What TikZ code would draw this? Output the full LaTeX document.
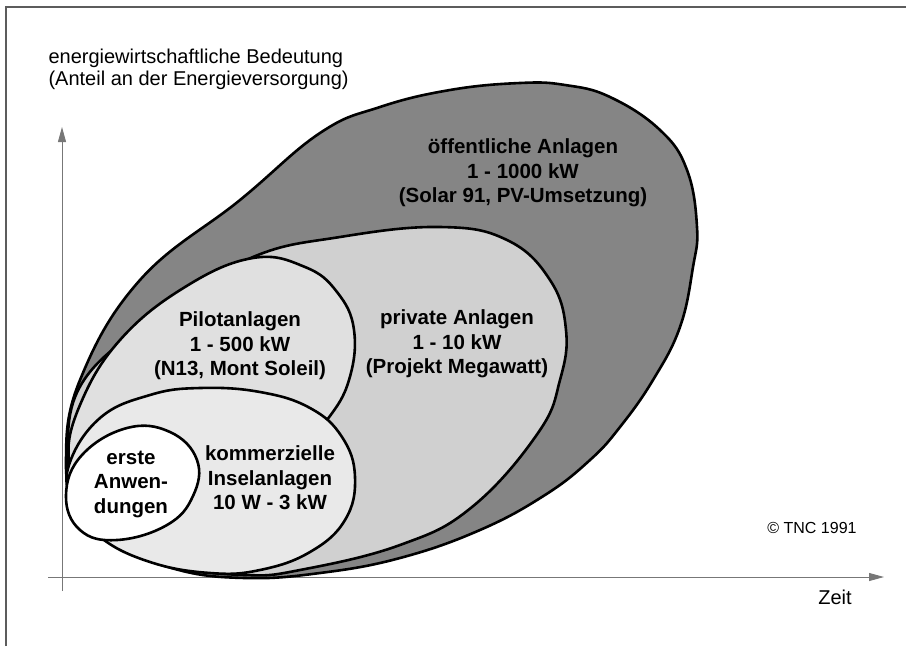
\documentclass[tikz,border=0pt]{standalone}
\usepackage{fontspec}
\setmainfont{Liberation Sans}
\usetikzlibrary{arrows.meta}
\definecolor{Dunkel}{HTML}{858585}
\definecolor{Mittel}{HTML}{D0D0D0}
\definecolor{Hell}{HTML}{E0E0E0}
\definecolor{Hellst}{HTML}{E9E9E9}
\definecolor{Rahmen}{HTML}{5C5C5C}
\definecolor{Achse}{HTML}{777777}

\begin{document}
\begin{tikzpicture}[x=1pt, y=-1pt,
    zone/.style={draw=black, line width=2.6pt},
    lbl/.style={font=\fontsize{20.5}{24.5}\selectfont\bfseries, align=center},
    txt/.style={font=\fontsize{20}{22}\selectfont},
    axis/.style={draw=Achse, line width=0.9pt, -{Triangle[length=15pt, width=8pt]}}
]
\useasboundingbox (0,0) rectangle (912,646);
\draw[Rahmen, line width=1.6pt] (6,646) -- (6,7) -- (906,7);

\coordinate (xstart) at (48,577);
\coordinate (xend) at (884,577);
\coordinate (ystart) at (62,591);
\coordinate (yend) at (62,127);
\draw[axis] (xstart) -- (xend);
\draw[axis] (ystart) -- (yend);

% oeffentliche Anlagen
\filldraw[zone, fill=Dunkel] plot[smooth cycle, tension=0.7] coordinates {
  (520,83) (565,85) (610,97) (660,130) (687,170) (697,227) (693,267) (680,327)
  (653,380) (620,427) (590,460) (545,495) (480,530) (400,558) (320,573) (245,578)
  (175,569) (115,542) (78,505) (66,460) (80,380) (140,280) (240,200) (320,133)
  (380,107) (450,90)};
% private Anlagen
\filldraw[zone, fill=Mittel] plot[smooth cycle, tension=0.7] coordinates {
  (253,257) (340,237) (440,227) (507,240) (550,280) (566,330) (560,380) (538,433)
  (472,507) (400,545) (300,570) (245,575) (177,566) (118,540) (80,505) (68,465)
  (84,380) (173,307)};
% Pilotanlagen
\filldraw[zone, fill=Hell] plot[smooth cycle, tension=0.7] coordinates {
  (253,258) (305,267) (337,292) (354,330) (349,380) (327,420) (290,460) (230,490)
  (150,505) (90,495) (69,460) (80,405) (120,340) (185,287)};
% kommerzielle Inselanlagen
\filldraw[zone, fill=Hellst] plot[smooth cycle, tension=0.7] coordinates {
  (69,465) (100,418) (150,395) (200,388) (260,392) (310,408) (342,437) (355,477)
  (345,520) (310,552) (260,570) (210,573) (150,562) (100,537) (73,502)};
% erste Anwendungen
\filldraw[zone, fill=white] plot[smooth cycle, tension=0.7] coordinates {
  (66,495) (82,455) (127,428) (170,432) (197,460) (193,496) (167,525) (117,540)
  (80,530)};

\node[txt, anchor=west, align=left] (titel) at (45,69)
  {energiewirtschaftliche Bedeutung\\(Anteil an der Energieversorgung)};
\node[lbl] (oeff) at (523,173) {öffentliche Anlagen\\1 - 1000 kW\\(Solar 91, PV-Umsetzung)};
\node[lbl] (privat) at (457,344) {private Anlagen\\1 - 10 kW\\(Projekt Megawatt)};
\node[lbl] (pilot) at (240,346) {Pilotanlagen\\1 - 500 kW\\(N13, Mont Soleil)};
\node[lbl] (insel) at (270,478) {kommerzielle\\Inselanlagen\\10 W - 3 kW};
\node[lbl] (erste) at (131,484) {erste\\Anwen-\\dungen};
\node[font=\fontsize{16}{18}\selectfont] (copy) at (812,528) {© TNC 1991};
\node[txt] (zeit) at (835,597) {Zeit};
\end{tikzpicture}
\end{document}
